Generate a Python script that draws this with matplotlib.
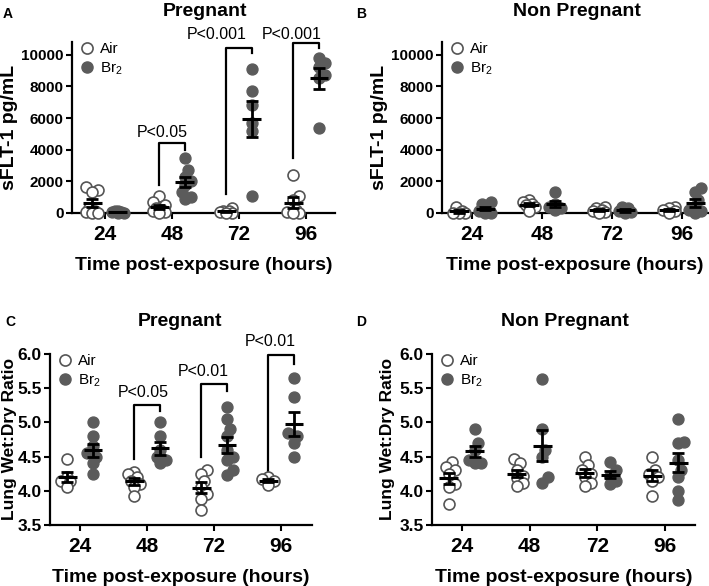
import matplotlib
matplotlib.use("Agg")
import matplotlib.pyplot as plt
from matplotlib.lines import Line2D
import numpy as np

plt.rcParams['font.family'] = ['Liberation Sans', 'DejaVu Sans']
plt.rcParams['mathtext.default'] = 'regular'

hours = ['24', '48', '72', '96']

# panel A - sFLT-1, pregnant
a_air = [[1650, 1450, 1300, 300, 100, 50, 0, 0],
         [1050, 700, 500, 300, 200, 100, 50, 0],
         [300, 150, 100, 50, 0, 0],
         [2400, 1100, 800, 200, 50, 0, 0]]
a_br2 = [[150, 100, 50, 50, 0, 0],
         [3500, 2700, 2300, 2000, 1800, 1300, 1000, 900],
         [9100, 7700, 6800, 5700, 5200, 1100],
         [9800, 9500, 9200, 8700, 8500, 5400]]

# panel B - sFLT-1, non pregnant
b_air = [[400, 100, 0, 0, 0],
         [800, 700, 600, 500, 400, 100],
         [400, 300, 200, 100, 50, 0],
         [400, 300, 200, 100, 0]]
b_br2 = [[700, 600, 300, 100, 0, 0],
         [1300, 600, 400, 300, 200],
         [400, 300, 100, 50, 0],
         [1600, 1300, 800, 400, 200, 100, 0]]

# panel C - wet:dry, pregnant
c_air = [[4.47, 4.2, 4.15, 4.15, 4.05],
         [4.28, 4.25, 4.2, 4.15, 4.1, 4.05, 3.93],
         [4.3, 4.25, 4.15, 4.05, 3.95, 3.88, 3.72],
         [4.2, 4.17, 4.15, 4.08]]
c_br2 = [[5.0, 4.8, 4.65, 4.55, 4.5, 4.4, 4.25],
         [5.0, 4.8, 4.6, 4.5, 4.45, 4.4],
         [5.22, 5.05, 4.9, 4.8, 4.6, 4.5, 4.45, 4.3, 4.23],
         [5.65, 5.37, 4.85, 4.8, 4.7, 4.5]]

# panel D - wet:dry, non pregnant
d_air = [[4.42, 4.35, 4.3, 4.25, 4.1, 4.05, 3.8],
         [4.47, 4.4, 4.3, 4.22, 4.18, 4.12, 4.07],
         [4.5, 4.38, 4.3, 4.25, 4.2, 4.12, 4.07],
         [4.5, 4.3, 4.25, 4.2, 4.15, 3.92]]
d_br2 = [[4.9, 4.7, 4.6, 4.45, 4.4, 4.4],
         [5.63, 4.9, 4.6, 4.5, 4.2, 4.12],
         [4.42, 4.3, 4.22, 4.15, 4.1],
         [5.05, 4.72, 4.7, 4.45, 4.3, 4.2, 4.0, 3.87]]

# brackets: group, left leg bottom, top, right leg bottom, label, text y, text x shift
a_sig = [(1, 1760, 4400, 3960, 'P<0.05', 5100, -0.15),
         (2, 1190, 10440, 10130, 'P<0.001', 11300, -0.33),
         (3, 3460, 10750, 10440, 'P<0.001', 11300, -0.21)]
c_sig = [(1, 4.46, 5.26, 5.16, 'P<0.05', 5.44, -0.06),
         (2, 4.49, 5.56, 5.46, 'P<0.01', 5.75, -0.16),
         (3, 4.2, 5.99, 5.85, 'P<0.01', 6.18, -0.16)]

W, H = 709, 586
fig = plt.figure(figsize=(W / 100, H / 100), dpi=100)

DARK = '#5b5b5b'
OFF = 0.19


def box(l, t, r, b):
    return fig.add_axes([l / W, 1 - b / H, (r - l) / W, (b - t) / H])


def swarm(ax, xc, vals, **kw):
    # small horizontal spread for points sitting close together
    vals = np.asarray(vals, float)
    pts = ax.transData.transform(np.column_stack([np.full(len(vals), xc), vals]))
    d = 7.0
    placed = []
    xs = np.zeros(len(vals))
    for i in np.argsort(vals):
        px, py = pts[i]
        best, bestd = px, -1
        for k in [0, 1, -1, 2, -2]:
            cx = px + k * 3.0
            md = min([np.hypot(cx - qx, py - qy) for qx, qy in placed] + [1e9])
            if md >= d:
                best = cx
                break
            if md > bestd:
                best, bestd = cx, md
        placed.append((best, py))
        xs[i] = best
    xd = ax.transData.inverted().transform(np.column_stack([xs, pts[:, 1]]))[:, 0]
    ax.scatter(xd, vals, s=62, clip_on=False, zorder=3, **kw)


def panel(ax, air, br2, xlim, ylim, yticks, ylab, lsize, tsize, sig=None):
    ax.set_xlim(*xlim)
    ax.set_ylim(*ylim)
    for s in ['top', 'right']:
        ax.spines[s].set_visible(False)
    for s in ['left', 'bottom']:
        ax.spines[s].set_linewidth(1.6)
    ax.set_xticks(range(4))
    ax.set_xticklabels(hours, fontsize=15, fontweight='bold')
    ax.set_yticks(yticks)
    ax.tick_params(width=1.5, length=4)
    ax.tick_params(axis='x', pad=5)
    ax.tick_params(axis='y', pad=2)
    for lb in ax.get_yticklabels():
        lb.set_fontsize(tsize)
        lb.set_fontweight('bold')
    ax.set_xlabel('Time post-exposure (hours)', fontsize=14, fontweight='bold', labelpad=9)
    ax.set_ylabel(ylab, fontsize=lsize, fontweight='bold', labelpad=2)
    for g in range(4):
        swarm(ax, g - OFF, air[g], facecolor='white', edgecolor='#555555', linewidths=1.2)
        swarm(ax, g + OFF, br2[g], facecolor=DARK, edgecolor=DARK, linewidths=1)
        for x, v in [(g - OFF, air[g]), (g + OFF, br2[g])]:
            m = np.mean(v)
            se = np.std(v, ddof=1) / np.sqrt(len(v))
            ax.hlines(m, x - 0.14, x + 0.14, color='black', lw=2.2, zorder=5, clip_on=False)
            ax.errorbar(x, m, yerr=se, fmt='none', ecolor='black', elinewidth=2,
                        capsize=4, capthick=2, zorder=5, clip_on=False)
    if sig:
        for g, lo, top, lo2, txt, ty, dx in sig:
            ax.plot([g - OFF, g - OFF, g + OFF, g + OFF], [lo, top, top, lo2],
                    color='black', lw=1.6, clip_on=False)
            ax.text(g + dx, ty, txt, ha='center', va='center', fontsize=11.5, clip_on=False)
    hs = [Line2D([], [], ls='none', marker='o', ms=8, mfc='white', mec='#555555', mew=1.2),
          Line2D([], [], ls='none', marker='o', ms=8, mfc=DARK, mec=DARK)]
    ax.legend(hs, ['Air', 'Br$_2$'], loc='upper left', bbox_to_anchor=(-0.02, 1.06),
              frameon=False, fontsize=11, handletextpad=0.3, labelspacing=0.25,
              handlelength=1.2, borderaxespad=0.3)
    return ax


axA = box(72, 42, 335, 213)
panel(axA, a_air, a_br2, (-0.49, 3.43), (0, 10800), range(0, 10001, 2000),
      'sFLT-1 pg/mL', 14, 11, a_sig)
axB = box(442, 42, 708, 213)
panel(axB, b_air, b_br2, (-0.43, 3.37), (0, 10800), range(0, 10001, 2000),
      'sFLT-1 pg/mL', 14, 11)
axC = box(50, 354, 312, 525)
panel(axC, c_air, c_br2, (-0.45, 3.46), (3.5, 6.0), np.arange(3.5, 6.01, 0.5),
      'Lung Wet:Dry Ratio', 12.5, 12.5, c_sig)
axD = box(432, 354, 695, 525)
panel(axD, d_air, d_br2, (-0.44, 3.44), (3.5, 6.0), np.arange(3.5, 6.01, 0.5),
      'Lung Wet:Dry Ratio', 12.5, 12.5)
for ax, lx in [(axC, -0.125), (axD, -0.14)]:
    ax.set_yticklabels(['3.5', '4.0', '4.5', '5.0', '5.5', '6.0'], fontsize=12.5, fontweight='bold')
    ax.yaxis.set_label_coords(lx, 0.5)

# titles and panel letters
fig.text(205 / W, 1 - 12 / H, 'Pregnant', ha='center', va='center', fontsize=14, fontweight='bold')
fig.text(577 / W, 1 - 12 / H, 'Non Pregnant', ha='center', va='center', fontsize=14, fontweight='bold')
fig.text(180 / W, 1 - 321 / H, 'Pregnant', ha='center', va='center', fontsize=14, fontweight='bold')
fig.text(565 / W, 1 - 321 / H, 'Non Pregnant', ha='center', va='center', fontsize=14, fontweight='bold')
fig.text(8 / W, 1 - 14 / H, 'A', ha='center', va='center', fontsize=10, fontweight='bold')
fig.text(361 / W, 1 - 14 / H, 'B', ha='center', va='center', fontsize=10, fontweight='bold')
fig.text(10 / W, 1 - 322 / H, 'C', ha='center', va='center', fontsize=10, fontweight='bold')
fig.text(361 / W, 1 - 322 / H, 'D', ha='center', va='center', fontsize=10, fontweight='bold')

fig.savefig('out.png', dpi=100)
